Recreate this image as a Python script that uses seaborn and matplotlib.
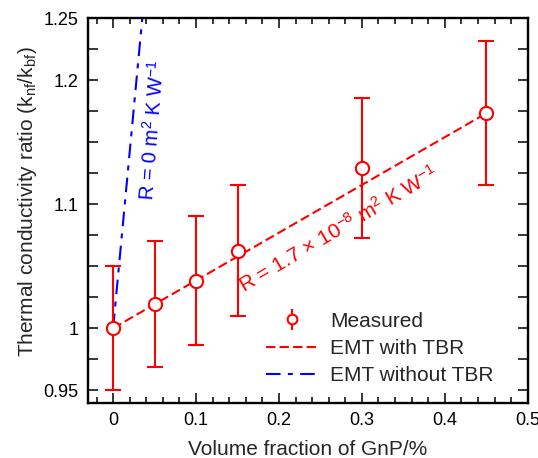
import numpy as np
import pandas as pd
import seaborn as sns
import matplotlib.pyplot as plt
from matplotlib.ticker import FixedLocator, MultipleLocator, FixedFormatter
from matplotlib.lines import Line2D

# medidas
vol_frac = [0, 0.05, 0.1, 0.15, 0.3, 0.45]
k_ratio = [1.0, 1.0196, 1.0384, 1.0626, 1.129, 1.1734]
k_err = [0.05, 0.051, 0.052, 0.053, 0.0565, 0.058]

# modelo EMT
emt_tbr_x = [0, 0.45]
emt_tbr_y = [1.0, 1.1734]
emt_notbr_x = [0, 0.036]
emt_notbr_y = [1.0, 1.256]

ytick_pos = [0.95, 1.0, 1.1, 1.2, 1.25]
ytick_lab = ['0.95', '1', '1.1', '1.2', '1.25']

sns.set_theme(style='ticks')
plt.rcParams['font.family'] = ['Liberation Sans', 'DejaVu Sans']
plt.rcParams['mathtext.fontset'] = 'custom'
plt.rcParams['mathtext.rm'] = 'Liberation Sans'
plt.rcParams['mathtext.it'] = 'Liberation Sans'

rojo_dash = (0, (4.5, 2))
azul_dashdot = (0, (7, 3.5, 2.4, 3.5))

fig = plt.figure(figsize=(5.38, 4.58), dpi=100)
ax = fig.add_axes([0.164, 0.121, 0.817, 0.839])

df_tbr = pd.DataFrame({'x': emt_tbr_x, 'y': emt_tbr_y})
df_notbr = pd.DataFrame({'x': emt_notbr_x, 'y': emt_notbr_y})
sns.lineplot(data=df_tbr, x='x', y='y', ax=ax, color='#ff0000', lw=1.5,
             linestyle=rojo_dash)
sns.lineplot(data=df_notbr, x='x', y='y', ax=ax, color='#0000ff', lw=1.5,
             linestyle=azul_dashdot)
ax.errorbar(vol_frac, k_ratio, yerr=k_err, fmt='o', color='#ff0000',
            mfc='white', mec='#ff0000', ms=9.5, mew=1.5, elinewidth=1.5,
            capsize=6, capthick=1.5, zorder=5)

ax.set_xlim(-0.03, 0.5)
ax.set_ylim(0.94, 1.25)
ax.set_xticks([0, 0.1, 0.2, 0.3, 0.4, 0.5])
ax.set_xticklabels(['0', '0.1', '0.2', '0.3', '0.4', '0.5'])
ax.xaxis.set_minor_locator(MultipleLocator(0.02))
ax.yaxis.set_major_locator(FixedLocator(ytick_pos))
ax.yaxis.set_major_formatter(FixedFormatter(ytick_lab))
ax.yaxis.set_minor_locator(MultipleLocator(0.025))

ax.tick_params(which='both', direction='in', top=True, right=True,
               color='black', width=1.1, labelsize=13, labelcolor='black')
ax.tick_params(which='major', length=7, pad=7)
ax.tick_params(axis='y', which='minor', length=7)
ax.tick_params(axis='x', which='minor', length=4)
for s in ax.spines.values():
    s.set_linewidth(1.7)
    s.set_color('black')

ax.set_xlabel('Volume fraction of GnP/%', fontsize=15, labelpad=8)
ax.set_ylabel('Thermal conductivity ratio (k$_{\\mathregular{nf}}$/k$_{\\mathregular{bf}}$)',
              fontsize=15)
ax.yaxis.set_label_coords(-0.112, 0.523)

ax.text(0.047, 1.16, 'R = 0 m$^{\\mathregular{2}}$ K W$^{\\mathregular{\u22121}}$',
        color='#0000ff', fontsize=14.5, rotation=85.5, rotation_mode='anchor',
        ha='center', va='center')
ax.text(0.272, 1.080,
        'R = 1.7 \u00d7 10$^{\\mathregular{\u22128}}$ m$^{\\mathregular{2}}$ K W$^{\\mathregular{\u22121}}$',
        color='#ff0000', fontsize=15, rotation=30.5, rotation_mode='anchor',
        ha='center', va='center')

handles = [
    ax.errorbar([], [], yerr=[], fmt='o', color='#ff0000', mfc='white',
                mec='#ff0000', ms=7, mew=1.5, capsize=4.5, elinewidth=1.5),
    Line2D([], [], color='#ff0000', lw=1.5, linestyle=rojo_dash),
    Line2D([], [], color='#0000ff', lw=1.5, linestyle=azul_dashdot),
]
ax.legend(handles, ['Measured', 'EMT with TBR', 'EMT without TBR'],
          loc='lower right', bbox_to_anchor=(0.955, 0.008), frameon=False,
          fontsize=15, handlelength=2.5, handletextpad=0.55, labelspacing=0.39,
          borderaxespad=0.3)

fig.savefig('out.png', dpi=100)
